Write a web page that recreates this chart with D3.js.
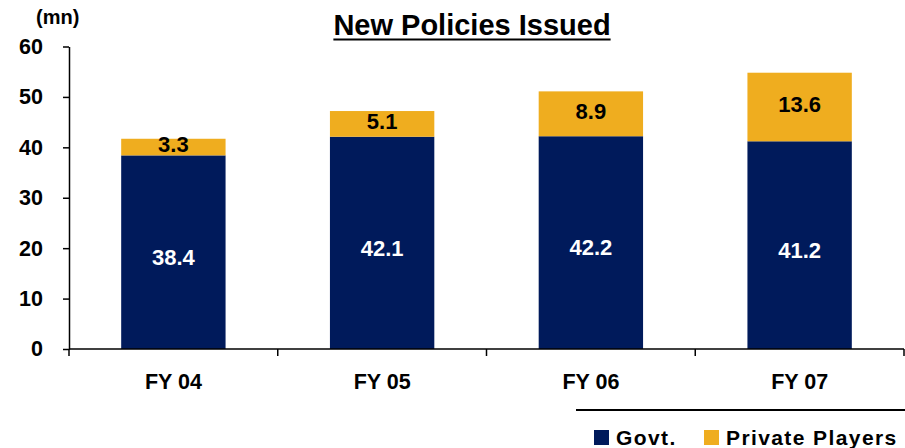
<!DOCTYPE html>
<html>
<head>
<meta charset="utf-8">
<script src="https://cdn.jsdelivr.net/npm/d3@7"></script>
<style>
  body { margin: 0; background: #fff; }
  text { font-family: "Liberation Sans", Arial, sans-serif; font-weight: bold; }
</style>
</head>
<body>
<script>
// data
var years = ["FY 04", "FY 05", "FY 06", "FY 07"];
var govt = [38.4, 42.1, 42.2, 41.2];
var privatePlayers = [3.3, 5.1, 8.9, 13.6];
var yTicks = [0, 10, 20, 30, 40, 50, 60];

var navy = "#001a5b", gold = "#efad1f";

var W = 905, H = 448;
var svg = d3.select("body").append("svg")
    .attr("width", W)
    .attr("height", H);

var x = d3.scaleBand()
    .domain(years)
    .range([69, 904])
    .paddingInner(0.5)
    .paddingOuter(0.25);

var y = d3.scaleLinear()
    .domain([0, 60])
    .range([349, 46.5]);

// stacked data
var rows = years.map(function(d, i) {
    return { year: d, govt: govt[i], priv: privatePlayers[i] };
});
var stack = d3.stack().keys(["govt", "priv"])(rows);

// bars
svg.selectAll("g.layer")
    .data(stack)
    .join("g")
    .attr("class", "layer")
    .attr("fill", function(d) { return d.key == "govt" ? navy : gold; })
    .selectAll("rect")
    .data(function(d) { return d; })
    .join("rect")
    .attr("x", function(d) { return x(d.data.year); })
    .attr("width", x.bandwidth())
    .attr("y", function(d) { return y(d[1]); })
    .attr("height", function(d) { return y(d[0]) - y(d[1]); });

// value labels
svg.selectAll("text.gl")
    .data(stack[0])
    .join("text")
    .attr("class", "gl")
    .attr("x", function(d) { return x(d.data.year) + x.bandwidth() / 2; })
    .attr("y", function(d) { return (y(d[0]) + y(d[1])) / 2 + 5; })
    .attr("dy", "0.35em")
    .attr("text-anchor", "middle")
    .attr("fill", "#fff")
    .style("font-size", "22px")
    .text(function(d) { return d.data.govt.toFixed(1); });

svg.selectAll("text.pl")
    .data(stack[1])
    .join("text")
    .attr("class", "pl")
    .attr("x", function(d) { return x(d.data.year) + x.bandwidth() / 2; })
    .attr("y", function(d) { return (y(d[0]) + y(d[1])) / 2 - 3; })
    .attr("dy", "0.35em")
    .attr("text-anchor", "middle")
    .attr("fill", "#000")
    .style("font-size", "22px")
    .text(function(d) { return d.data.priv.toFixed(1); });

// y axis
var yAxis = svg.append("g")
    .attr("transform", "translate(69,0)")
    .call(d3.axisLeft(y).tickValues(yTicks).tickSize(6).tickSizeOuter(0).tickPadding(20));
yAxis.selectAll("path, line").attr("stroke", "#000").attr("stroke-width", 1.5);
yAxis.selectAll("text").style("font-size", "21.5px").attr("fill", "#000")
    .style("font-family", "'Liberation Sans', Arial, sans-serif");

// x axis: labels from the band axis, boundary ticks between categories
var xAxis = svg.append("g")
    .attr("transform", "translate(0,349)")
    .call(d3.axisBottom(x).tickSize(0).tickPadding(25));
xAxis.select(".domain").remove();
xAxis.selectAll("text").style("font-size", "21.5px").attr("fill", "#000")
    .style("font-family", "'Liberation Sans', Arial, sans-serif");

svg.append("line")
    .attr("x1", 69).attr("x2", 904)
    .attr("y1", 349).attr("y2", 349)
    .attr("stroke", "#000").attr("stroke-width", 1.5);

var bounds = years.map(function(d) { return x(d) - x.step() * x.paddingOuter(); });
bounds.push(x.range()[1]);
svg.selectAll("line.bt")
    .data(bounds)
    .join("line")
    .attr("class", "bt")
    .attr("x1", function(d) { return d; }).attr("x2", function(d) { return d; })
    .attr("y1", 349).attr("y2", 356)
    .attr("stroke", "#000").attr("stroke-width", 1.5);

// title
var title = svg.append("text")
    .attr("x", 472)
    .attr("y", 35)
    .attr("text-anchor", "middle")
    .style("font-size", "29px")
    .text("New Policies Issued");
var tw = title.node().getComputedTextLength();
svg.append("line")
    .attr("x1", 472 - tw / 2).attr("x2", 472 + tw / 2)
    .attr("y1", 39.5).attr("y2", 39.5)
    .attr("stroke", "#000").attr("stroke-width", 2);

// unit label
svg.append("text")
    .attr("x", 36)
    .attr("y", 24)
    .style("font-size", "20px")
    .text("(mn)");

// legend
svg.append("line")
    .attr("x1", 576).attr("x2", 905)
    .attr("y1", 410).attr("y2", 410)
    .attr("stroke", "#000").attr("stroke-width", 2);

var legend = [
    { name: "Govt.", color: navy, x: 594 },
    { name: "Private Players", color: gold, x: 704 }
];
var lg = svg.selectAll("g.leg")
    .data(legend)
    .join("g")
    .attr("class", "leg")
    .attr("transform", function(d) { return "translate(" + d.x + ",430)"; });
lg.append("rect")
    .attr("width", 15).attr("height", 15)
    .attr("fill", function(d) { return d.color; });
lg.append("text")
    .attr("x", 22)
    .attr("y", 15)
    .style("font-size", "21px")
    .style("letter-spacing", "1.4px")
    .text(function(d) { return d.name; });
</script>
</body>
</html>
